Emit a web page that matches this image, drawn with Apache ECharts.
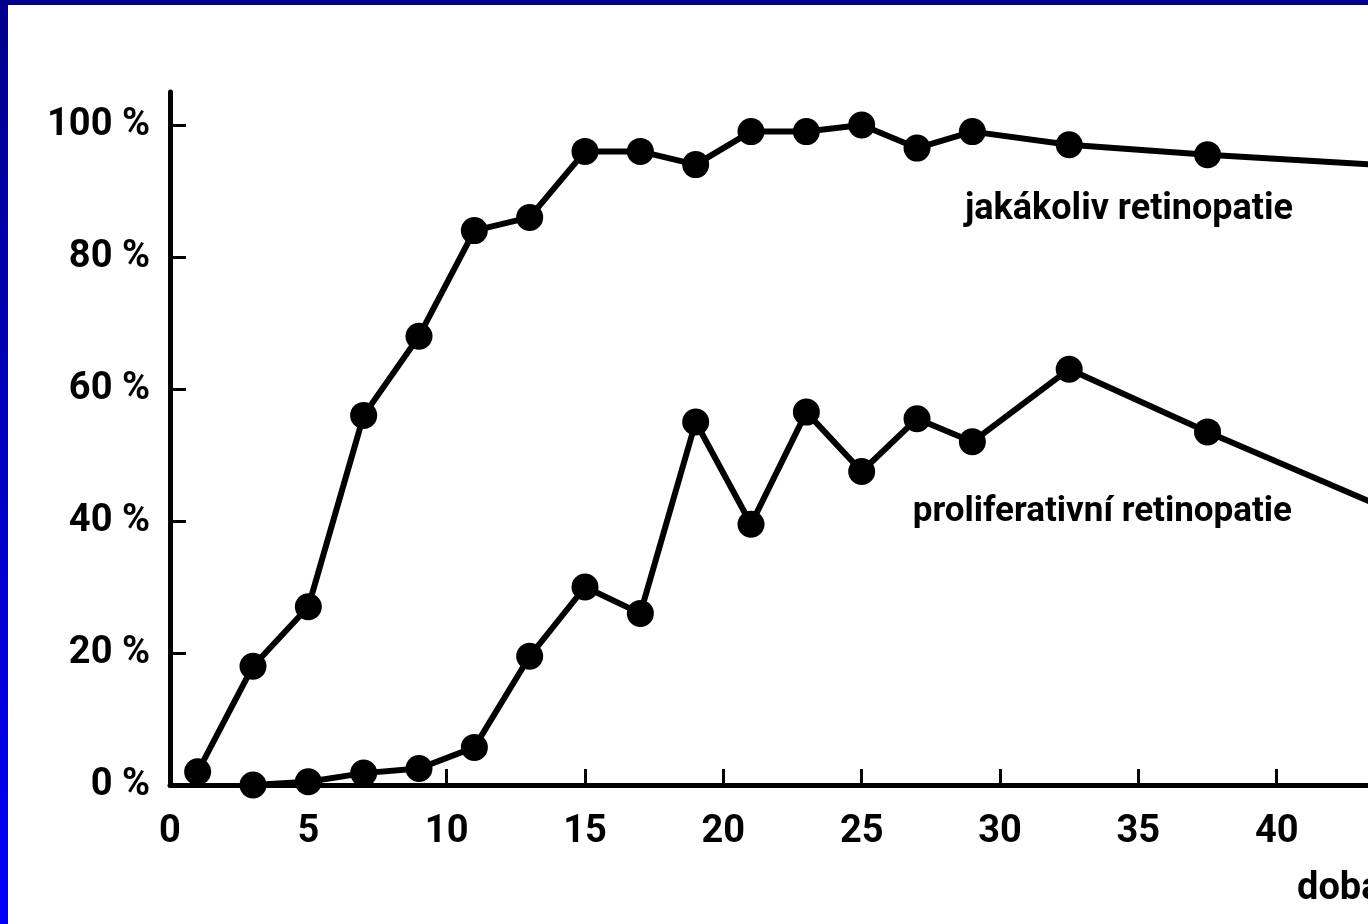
<!DOCTYPE html>
<html>
<head>
<meta charset="utf-8">
<title>retinopatie</title>
<script src="https://cdn.jsdelivr.net/npm/echarts@6/dist/echarts.min.js"></script>
<style>
    html, body {
        margin: 0;
        padding: 0;
        width: 1368px;
        height: 924px;
        overflow: hidden;
        background: linear-gradient(to bottom, #00008a, #0000f8);
    }
    #chart {
        position: absolute;
        left: 8px;
        top: 5px;
        width: 1360px;
        height: 919px;
        background: #ffffff;
    }
</style>
</head>
<body>
<div id="chart"></div>
<script>
// doba trvání diabetu (roky) - body po 2 letech, potom po 5 letech
var years1 = [1, 3, 5, 7, 9, 11, 13, 15, 17, 19, 21, 23, 25, 27, 29, 32.5, 37.5, 47.5];
var anyRetino = [2, 18, 27, 56, 68, 84, 86, 96, 96, 94, 99, 99, 100, 96.5, 99, 97, 95.5, 93];

var years2 = [3, 5, 7, 9, 11, 13, 15, 17, 19, 21, 23, 25, 27, 29, 32.5, 37.5, 47.5];
var prolifRetino = [0, 0.5, 1.8, 2.5, 5.7, 19.5, 30, 26, 55, 39.5, 56.5, 47.5, 55.5, 52, 63, 53.5, 35.5];

var xTicks = [5, 10, 15, 20, 25, 30, 35, 40];
var xLabels = [0, 5, 10, 15, 20, 25, 30, 35, 40];
var yTicks = [20, 40, 60, 80, 100];
var yLabels = [0, 20, 40, 60, 80, 100];

var seriesNames = ['jakákoliv retinopatie', 'proliferativní retinopatie'];

function pairs(xs, ys) {
    var out = [];
    for (var i = 0; i < xs.length; i++) {
        out.push([xs[i], ys[i]]);
    }
    return out;
}

var font = 'Roboto, "DejaVu Sans", sans-serif';

var myChart = echarts.init(document.getElementById('chart'));
var option = {
    animation: false,
    backgroundColor: '#ffffff',
    grid: {
        left: 162,
        right: 0,
        top: 87,
        bottom: 139
    },
    xAxis: {
        type: 'value',
        min: 0,
        max: 43.3,
        splitLine: {show: false},
        axisLine: {
            show: true,
            lineStyle: {color: '#000', width: 5}
        },
        axisTick: {
            show: true,
            inside: true,
            length: 16,
            customValues: xTicks,
            lineStyle: {color: '#000', width: 3}
        },
        axisLabel: {
            customValues: xLabels,
            margin: 28,
            color: '#000',
            fontFamily: font,
            fontWeight: 'bold',
            fontSize: 38
        }
    },
    yAxis: {
        type: 'value',
        min: 0,
        max: 105,
        splitLine: {show: false},
        axisLine: {
            show: true,
            lineStyle: {color: '#000', width: 5}
        },
        axisTick: {
            show: true,
            inside: true,
            length: 16,
            customValues: yTicks,
            lineStyle: {color: '#000', width: 3}
        },
        axisLabel: {
            customValues: yLabels,
            margin: 20,
            color: '#000',
            fontFamily: font,
            fontWeight: 'bold',
            fontSize: 38,
            formatter: function (v) {
                return v + ' %';
            }
        }
    },
    // popisky křivek a osy x
    graphic: [
        {
            type: 'text',
            x: 1285,
            y: 205,
            style: {
                text: seriesNames[0],
                fill: '#000',
                font: 'bold 36px ' + font,
                align: 'right',
                verticalAlign: 'middle'
            }
        },
        {
            type: 'text',
            x: 1284,
            y: 507,
            style: {
                text: seriesNames[1],
                fill: '#000',
                font: 'bold 35px ' + font,
                align: 'right',
                verticalAlign: 'middle'
            }
        },
        {
            type: 'text',
            x: 1289,
            y: 884,
            style: {
                text: 'doba trvání diabetu',
                fill: '#000',
                font: 'bold 38px ' + font,
                align: 'left',
                verticalAlign: 'middle'
            }
        }
    ],
    series: [
        {
            name: seriesNames[0],
            type: 'line',
            data: pairs(years1, anyRetino),
            symbol: 'circle',
            symbolSize: 27,
            clip: true,
            itemStyle: {color: '#000'},
            lineStyle: {color: '#000', width: 6}
        },
        {
            name: seriesNames[1],
            type: 'line',
            data: pairs(years2, prolifRetino),
            symbol: 'circle',
            symbolSize: 27,
            clip: true,
            itemStyle: {color: '#000'},
            lineStyle: {color: '#000', width: 6}
        }
    ]
};
myChart.setOption(option);
</script>
</body>
</html>
